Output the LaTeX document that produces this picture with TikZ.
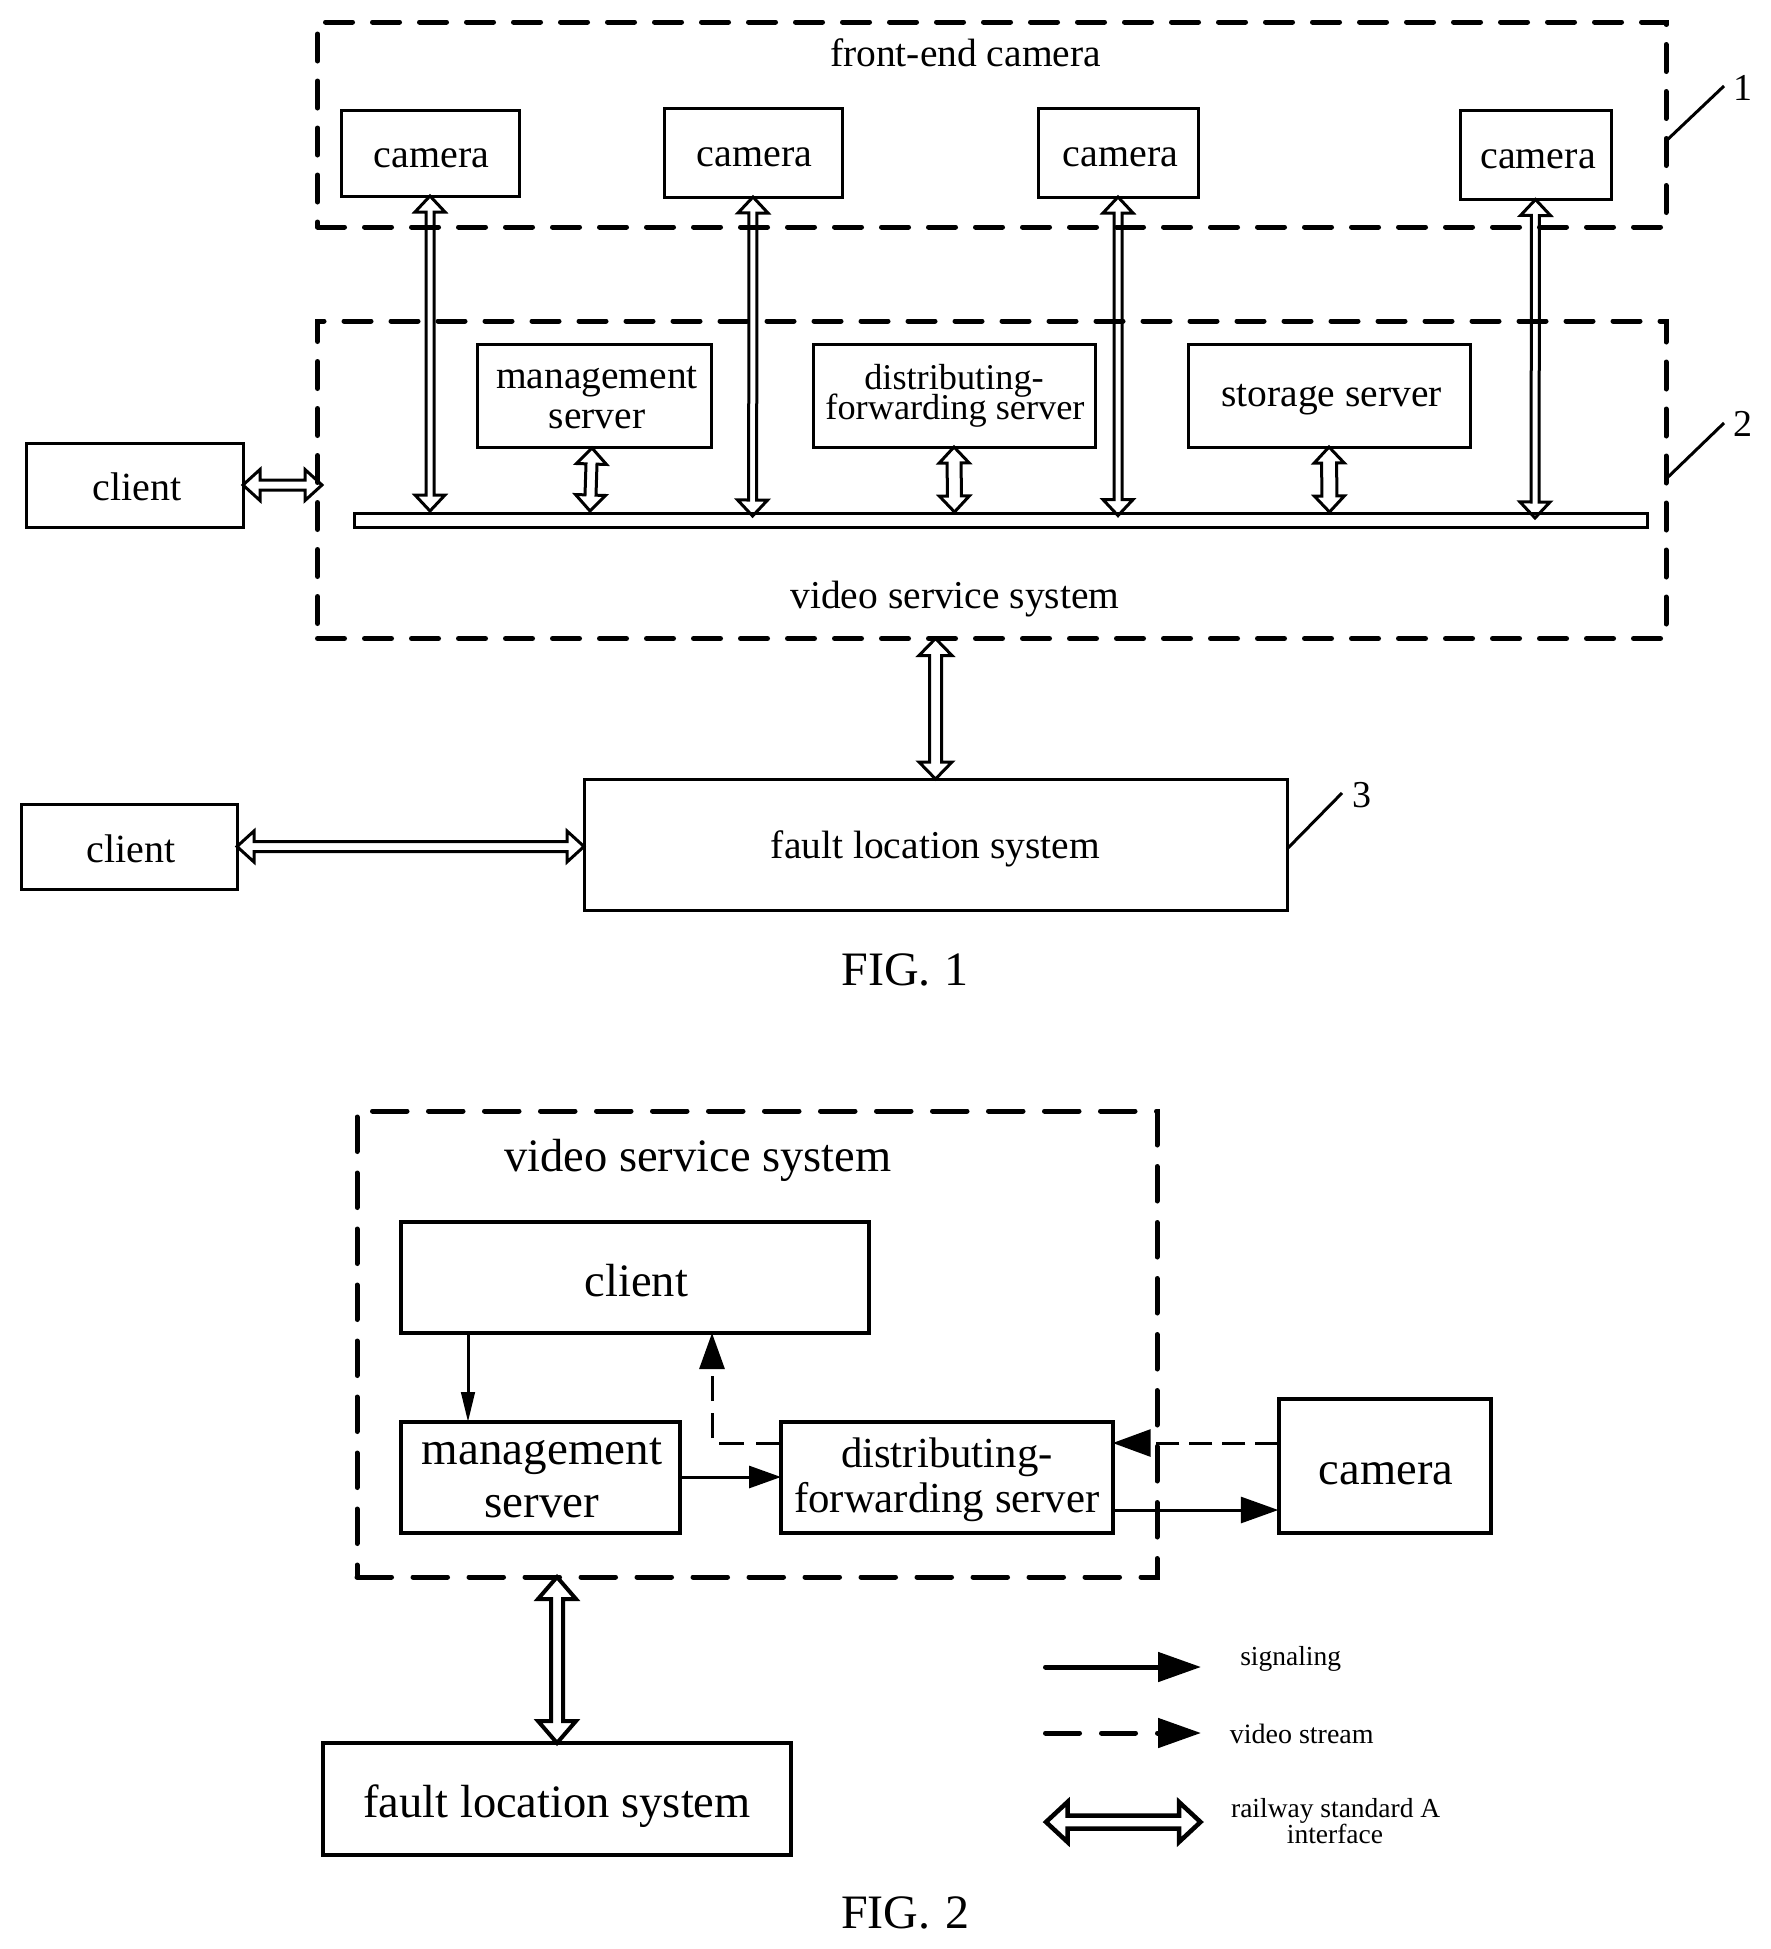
\documentclass[tikz,border=0pt]{standalone}
\usepackage{fontspec}
\setmainfont{Liberation Serif}
\usetikzlibrary{calc,arrows.meta}
\AtBeginDocument{\normallineskiplimit=-100pt \lineskiplimit=-100pt\relax}
\tikzset{
  fs/.style 2 args={font=\fontsize{#1}{#2}\selectfont},
  bl/.style={text height=25pt+#1pt, text depth=25pt-#1pt},
  box/.style={draw=black,line width=3pt,inner sep=0pt,outer sep=0pt,align=center,fill=none},
  boxb/.style={box,line width=4pt},
  sysa/.style={draw=black,line width=5pt,line cap=round,inner sep=0pt,outer sep=0pt,dash pattern=on 27pt off 20pt},
  sysb/.style={draw=black,line width=5pt,line cap=round,inner sep=0pt,outer sep=0pt,dash pattern=on 34.5pt off 21.5pt},
  txt/.style={inner sep=0pt,outer sep=0pt,anchor=base,align=center},
  dbl/.style n args={4}{draw=black,line width=#4,line join=miter,to path={
    -- ($(\tikztostart)!#3!(\tikztotarget)!#2!90:(\tikztotarget)$)
    -- ($(\tikztostart)!#3!(\tikztotarget)!#1!90:(\tikztotarget)$)
    -- ($(\tikztotarget)!#3!(\tikztostart)!#1!-90:(\tikztostart)$)
    -- ($(\tikztotarget)!#3!(\tikztostart)!#2!-90:(\tikztostart)$)
    -- (\tikztotarget)
    -- ($(\tikztotarget)!#3!(\tikztostart)!#2!90:(\tikztostart)$)
    -- ($(\tikztotarget)!#3!(\tikztostart)!#1!90:(\tikztostart)$)
    -- ($(\tikztostart)!#3!(\tikztotarget)!#1!-90:(\tikztotarget)$)
    -- ($(\tikztostart)!#3!(\tikztotarget)!#2!-90:(\tikztotarget)$)
    -- cycle}},
  arr/.style={draw=black,line width=3pt,-{Triangle[length=#1]}},
  lead/.style={draw=black,line width=3pt},
}
\begin{document}
\begin{tikzpicture}[x=1pt,y=-1pt]
\useasboundingbox (0,0) rectangle (1771,1949);
% FIG 1 containers
\node[sysa,minimum width=1348.5pt,minimum height=205pt] (sysA) at (991.75,124.5) {};
\node[sysa,minimum width=1348.5pt,minimum height=317.5pt] (sysB) at (991.75,479.75) {};
\node[txt,fs={39.5}{40}] (tFront) at (965.5,66) {front-end camera};
\node[txt,fs={39.5}{40}] (tVideo) at (955,608) {video service system};
% FIG 1 boxes
\node[box,fs={40}{40},bl=14,minimum width=178pt,minimum height=86pt] (camA) at (430,153) {\kern3pt camera};
\node[box,fs={40}{40},bl=13.5,minimum width=178pt,minimum height=89pt] (camB) at (753,152.5) {\kern3pt camera};
\node[box,fs={40}{40},bl=14,minimum width=160pt,minimum height=89pt] (camC) at (1118,152.5) {\kern5pt camera};
\node[box,fs={40}{40},bl=14,minimum width=151pt,minimum height=89.5pt] (camD) at (1535.5,154.75) {\kern5pt camera};
\node[box,fs={39.5}{40},minimum width=234pt,minimum height=103pt] (mgmt) at (594,395.5) {\rule{0pt}{27pt}\kern6pt management\\\kern6pt server};
\node[box,fs={36.3}{30},minimum width=282pt,minimum height=103pt] (dist) at (954,395.5) {distributing-\\\kern2pt forwarding server};
\node[box,fs={39.5}{40},bl=10.5,minimum width=282pt,minimum height=103pt] (stor) at (1329,395.5) {\kern5pt storage server};
\node[box,fs={40}{40},bl=15,minimum width=217pt,minimum height=84pt] (cliA) at (134.5,485) {\kern5pt client};
\node[box,minimum width=1293pt,minimum height=14pt] (bus) at (1000.5,520) {};
\node[box,fs={40}{40},bl=15.5,minimum width=216pt,minimum height=85pt] (cliB) at (129,846.5) {\kern4pt client};
\node[box,fs={39.5}{40},bl=13.5,minimum width=703pt,minimum height=131pt] (fault) at (935.5,844.5) {fault location system};
\node[txt,fs={48}{48}] (figA) at (905,985) {FIG.\kern14pt 1};
% FIG 1 connectors
\coordinate (bA) at (430,511);
\coordinate (bB) at (752.6,516);
\coordinate (bC) at (1118,515.6);
\coordinate (bD) at (1535,518);
\coordinate (bM) at (590,511);
\coordinate (tM) at (592,448);
\coordinate (bS) at (954.5,512);
\coordinate (bT) at (1329.5,512);
\coordinate (inA) at (322,485);
\coordinate (sF) at (fault.north |- sysB.south);
\coordinate (wF) at (fault.west |- cliB.east);
\draw[dbl={4pt}{15pt}{16pt}{3pt}] (camA.south) to (bA);
\draw[dbl={4pt}{15pt}{16pt}{3pt}] (camB.south) to (bB);
\draw[dbl={4pt}{15pt}{16pt}{3pt}] (camC.south) to (bC);
\draw[dbl={4pt}{15pt}{16pt}{3pt}] (camD.south) to (bD);
\draw[dbl={5.5pt}{15pt}{16pt}{3pt}] (tM) to (bM);
\draw[dbl={7pt}{15pt}{16pt}{3pt}] (dist.south) to (bS);
\draw[dbl={7.5pt}{15pt}{16pt}{3pt}] (stor.south) to (bT);
\draw[dbl={5pt}{15.5pt}{17pt}{3pt}] (cliA.east) to (inA);
\draw[dbl={5pt}{15.5pt}{17pt}{3pt}] (cliB.east) to (wF);
\draw[dbl={6pt}{16.5pt}{17pt}{3pt}] (sF) to (fault.north);
% reference numerals
\coordinate (lAa) at (1666,141); \coordinate (lAb) at (1724,86);
\coordinate (lBa) at (1666,479); \coordinate (lBb) at (1724,423);
\coordinate (lCa) at (1287,849); \coordinate (lCb) at (1342,793);
\draw[lead] (lAa) -- (lAb);
\draw[lead] (lBa) -- (lBb);
\draw[lead] (lCa) -- (lCb);
\node[txt,fs={38}{38}] (nA) at (1743,100) {1};
\node[txt,fs={38}{38}] (nB) at (1743,436) {2};
\node[txt,fs={38}{38}] (nC) at (1362,807) {3};
% FIG 2
\node[sysb,minimum width=800pt,minimum height=466pt] (sysC) at (757,1344) {};
\node[txt,fs={46.5}{46.5}] (tVideoB) at (698,1171) {video service system};
\node[boxb,fs={46.5}{46.5},bl=18.5,minimum width=467.6pt,minimum height=111pt] (cliC) at (634.8,1277.5) {\kern3pt client};
\node[boxb,fs={47}{53},minimum width=279pt,minimum height=111pt] (mgmtB) at (540.5,1477.5) {\kern3pt management\\\kern3pt server};
\node[boxb,fs={42.8}{45},minimum width=331.7pt,minimum height=111pt] (distB) at (946.85,1477.5) {\rule{0pt}{33.2pt}distributing-\\forwarding server};
\node[boxb,fs={46.5}{46.5},bl=18,minimum width=212pt,minimum height=134pt] (camE) at (1384.5,1466) {\kern3pt camera};
\node[boxb,fs={46.5}{46.5},bl=18,minimum width=468pt,minimum height=112pt] (faultB) at (557,1799) {fault location system};
\node[txt,fs={48}{48}] (figB) at (905.5,1928) {FIG.\kern15.5pt 2};
\coordinate (cO) at (468,1333); \coordinate (mI) at (468,1422);
\coordinate (dD) at (781,1443); \coordinate (cI) at (712,1333);
\coordinate (mO) at (680,1477); \coordinate (dI) at (781,1477);
\coordinate (eA) at (1278.3,1443); \coordinate (dR) at (1112.7,1443);
\coordinate (dO) at (1112.7,1510); \coordinate (eI) at (1278.3,1510);
\coordinate (sC) at (faultB.north |- sysC.south);
\draw[arr=30pt] (cO) -- (mI);
\draw[draw=black,line width=3pt,dash pattern=on 25pt off 12pt,-{Triangle[length=36pt,width=25pt]}] (dD) -| (cI);
\draw[draw=black,line width=3pt,-{Triangle[length=32pt,width=22pt]}] (mO) -- (dI);
\draw[draw=black,line width=3pt,dash pattern=on 23pt off 10pt,-{Triangle[length=38pt,width=27pt]}] (eA) -- (dR);
\draw[draw=black,line width=3pt,-{Triangle[length=37.5pt,width=26pt]}] (dO) -- (eI);
\draw[dbl={6pt}{19pt}{22pt}{4pt}] (sC) to (faultB.north);
% legend
\coordinate (kAa) at (1045.5,1667); \coordinate (kAb) at (1201,1667);
\coordinate (kBa) at (1045.5,1733); \coordinate (kBb) at (1201,1733);
\coordinate (kCa) at (1046,1822); \coordinate (kCb) at (1200.5,1822);
\draw[draw=black,line width=5pt,line cap=round,-{Triangle[length=43pt,width=29pt]}] (kAa) -- (kAb);
\draw[draw=black,line width=5pt,line cap=round,dash pattern=on 34pt off 22pt,-{Triangle[length=43pt,width=29pt]}] (kBa) -- (kBb);
\draw[dbl={6.5pt}{20pt}{21.5pt}{4.5pt}] (kCa) to (kCb);
\node[txt,fs={27.5}{27.5}] (kA) at (1290.7,1665) {signaling};
\node[txt,fs={28}{28}] (kB) at (1301.7,1743) {video stream};
\node[txt,fs={27.5}{26}] (kC) at (1335.7,1817) {railway standard A};
\node[txt,fs={27.5}{26}] (kD) at (1335,1843) {interface};
\end{tikzpicture}
\end{document}
